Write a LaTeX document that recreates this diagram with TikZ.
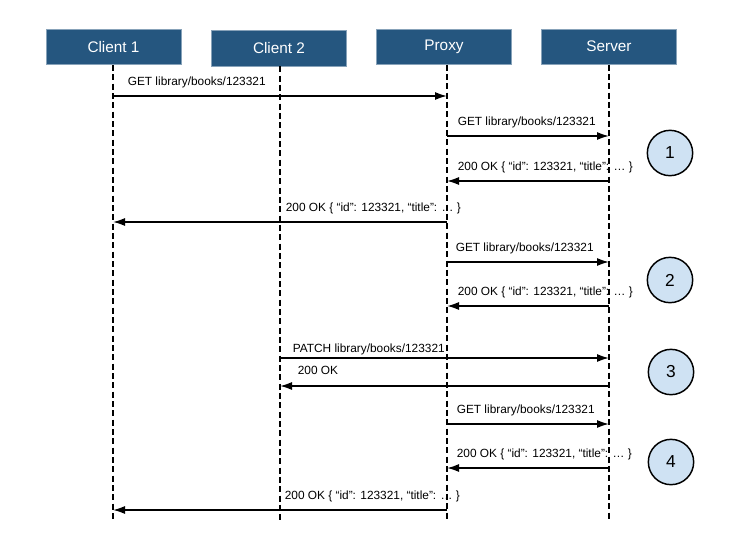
\documentclass[tikz,border=0pt]{standalone}
\usepackage{fontspec}
\setmainfont{Liberation Sans}
\usetikzlibrary{arrows.meta}

\definecolor{actorblue}{HTML}{25567F}
\definecolor{stepblue}{HTML}{CFE2F3}

\begin{document}
\begin{tikzpicture}[x=0.75pt,y=-0.75pt,
  actor/.style={fill=actorblue,draw=actorblue!55!white,line width=0.5pt,text=white,inner sep=0pt,minimum width=101.5pt,minimum height=26.5pt,font=\fontsize{11.5}{13}\selectfont},
  lifeline/.style={line width=1.2pt,dash pattern=on 4.5pt off 2.5pt},
  msg/.style={line width=1.2pt,-{Latex[length=9pt,width=6pt]}},
  lbl/.style={anchor=base west,inner sep=0pt,yshift=8pt,xshift=7.5pt,font=\fontsize{8.9}{10}\selectfont},
  stepmark/.style={circle,draw,line width=1.1pt,fill=stepblue,minimum size=34pt,font=\fontsize{13}{15}\selectfont}]

  \useasboundingbox (0,0) rectangle (752,532);

  % Agents: name / lifeline x / box x / box y
  \def\ActorList{Client 1/113/113.5/47, Client 2/280/279/48.3, Proxy/447/444/46.5, Server/609/609/46.5}
  % rows of the messages
  \def\RowList{96,136,181,222,262,306,358,386,424,468,510}

  %Lifelines and matrix of points
  \foreach \a/\px/\bx/\by [count=\x from 0] in \ActorList
    {\node[actor] (a\x) at (\bx,\by) {\a};
     \coordinate (b\x) at (\px,\by);
     \coordinate (e\x) at (\px,521);
     \draw[lifeline] (b\x |- a\x.south) -- (e\x);
     \foreach \py [count=\y from 1] in \RowList
       {\coordinate (\x-\y) at (\px,\py);}}

  % Horizontal flows
  \draw[msg] (0-1) -- (2-1) node[lbl,xshift=3pt] at (0-1) {GET library/books/123321};
  \draw[msg] (2-2) -- (3-2) node[lbl] at (2-2) {GET library/books/123321};
  \draw[msg] (3-3) -- (2-3) node[lbl] at (2-3) {200 OK \{ “id”: 123321, “title”: … \}};
  \draw[msg] (2-4) -- (0-4) node[lbl,xshift=-3.75pt] at (1-4) {200 OK \{ “id”: 123321, “title”: … \}};
  \draw[msg] (2-5) -- (3-5) node[lbl,xshift=-1.5pt] at (2-5) {GET library/books/123321};
  \draw[msg] (3-6) -- (2-6) node[lbl] at (2-6) {200 OK \{ “id”: 123321, “title”: … \}};
  \draw[msg] (1-7) -- (3-7) node[lbl,xshift=1.5pt,yshift=-3.5pt] at (1-7) {PATCH library/books/123321};
  \draw[msg] (3-8) -- (1-8) node[lbl,xshift=5.25pt,yshift=1pt] at (1-8) {200 OK};
  \draw[msg] (2-9) -- (3-9) node[lbl,xshift=-0.75pt] at (2-9) {GET library/books/123321};
  \draw[msg] (3-10) -- (2-10) node[lbl,xshift=-0.75pt] at (2-10) {200 OK \{ “id”: 123321, “title”: … \}};
  \draw[msg] (2-11) -- (0-11) node[lbl,xshift=-4.5pt] at (1-11) {200 OK \{ “id”: 123321, “title”: … \}};

  % Steps
  \node[stepmark] (s1) at (670,153) {1};
  \node[stepmark] (s2) at (670,280) {2};
  \node[stepmark] (s3) at (671,372) {3};
  \node[stepmark] (s4) at (671,462) {4};

\end{tikzpicture}
\end{document}
